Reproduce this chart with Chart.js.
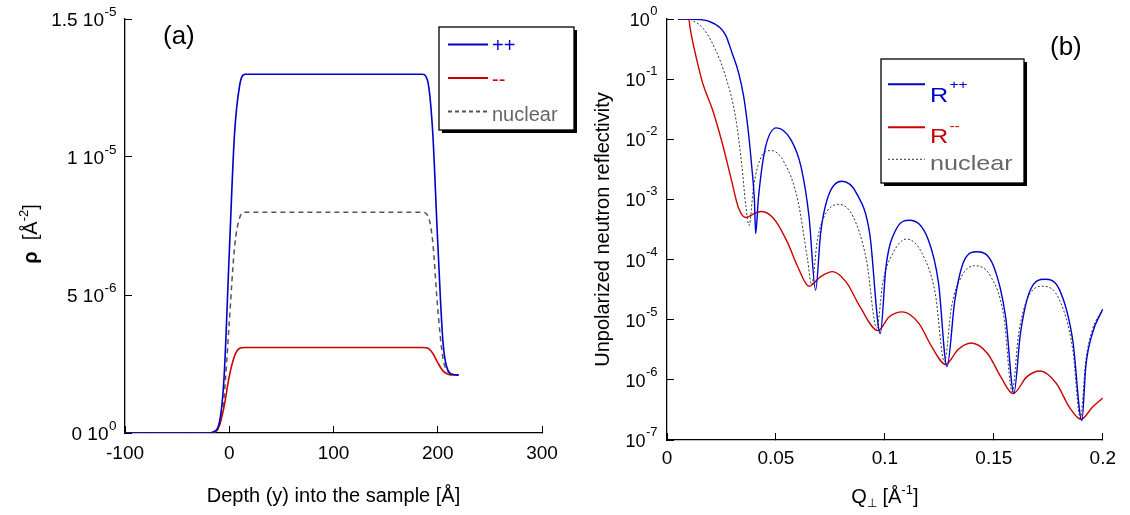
<!DOCTYPE html>
<html><head><meta charset="utf-8">
<script src="https://cdn.jsdelivr.net/npm/chart.js@4.4.1/dist/chart.umd.min.js"></script>
<style>
html,body{margin:0;padding:0;background:#fff;}
#wrap{position:relative;width:1130px;height:515px;overflow:hidden;}
#boxA{position:absolute;left:0;top:0;width:580px;height:515px;}
#boxB{position:absolute;left:580px;top:0;width:550px;height:515px;}
</style></head><body>
<div id="wrap">
<div id="boxA"><canvas id="chartA" width="580" height="515"></canvas></div>
<div id="boxB"><canvas id="chartB" width="550" height="515"></canvas></div>
</div>
<script>
// ---------- Panel (a): scattering length density profile ----------
const depth   = [-100, -25, -20, -15, -10, -5, 0, 5, 10, 15, 20, 100, 180, 185, 190, 195, 200, 205, 210, 215, 220];
const rhoPlus = [0, 0, 0, 0.05e-6, 0.3e-6, 2.0e-6, 6.5e-6, 10.8e-6, 12.6e-6, 13.0e-6, 13.0e-6, 13.0e-6, 13.0e-6, 13.0e-6, 12.8e-6, 11.0e-6, 6.9e-6, 3.3e-6, 2.25e-6, 2.12e-6, 2.1e-6];
const rhoMinus= [0, 0, 0, 0.02e-6, 0.22e-6, 0.95e-6, 2.05e-6, 2.78e-6, 3.07e-6, 3.1e-6, 3.1e-6, 3.1e-6, 3.1e-6, 3.1e-6, 3.08e-6, 2.9e-6, 2.55e-6, 2.25e-6, 2.13e-6, 2.1e-6, 2.1e-6];
const rhoNuc  = [0, 0, 0, 0.03e-6, 0.2e-6, 1.3e-6, 4.0e-6, 6.7e-6, 7.8e-6, 8.0e-6, 8.0e-6, 8.0e-6, 8.0e-6, 8.0e-6, 7.9e-6, 7.0e-6, 4.5e-6, 2.7e-6, 2.22e-6, 2.12e-6, 2.1e-6];
const aXTicks  = [-100, 0, 100, 200, 300];
const aXLabels = ['-100', '0', '100', '200', '300'];
const aYTicks  = [0, 5e-6, 1e-5, 1.5e-5];
const aYLabels = [['0 10', '0'], ['5 10', '-6'], ['1 10', '-5'], ['1.5 10', '-5']];
const aSeries  = ['++', '--', 'nuclear'];

// ---------- Panel (b): reflectivity ----------
const qPlus = [0.005, 0.010, 0.015, 0.0194, 0.0239, 0.0269, 0.0299, 0.0329, 0.0352, 0.0374, 0.0389, 0.0401, 0.0407, 0.0419, 0.0449, 0.0502, 0.0569, 0.0615, 0.0652, 0.0682, 0.0705, 0.0735, 0.0803, 0.087, 0.093, 0.0979, 0.1005, 0.105, 0.1114, 0.120, 0.1246, 0.1285, 0.1321, 0.1366, 0.1423, 0.150, 0.1554, 0.1592, 0.1622, 0.1667, 0.1734, 0.1802, 0.1862, 0.1904, 0.1922, 0.1952, 0.2];
const rPlus = [1, 1, 0.98, 0.91, 0.74, 0.54, 0.27, 0.126, 0.051, 0.0126, 3.5e-3, 1.0e-3, 2.7e-4, 1.0e-3, 6.6e-3, 1.55e-2, 9.8e-3, 3.5e-3, 5.1e-4, 3.1e-5, 2.75e-4, 1.0e-3, 2.0e-3, 1.26e-3, 2.75e-4, 5.9e-6, 7.6e-5, 3.1e-4, 4.5e-4, 2.1e-4, 4.1e-5, 1.66e-6, 2.1e-5, 1.0e-4, 1.35e-4, 7.6e-5, 1.12e-5, 6.0e-7, 5.9e-6, 3.1e-5, 4.7e-5, 3.1e-5, 4.6e-6, 2.1e-7, 1.66e-6, 5.9e-6, 1.5e-5];
const qMinus = [0.005, 0.010, 0.0106, 0.0115, 0.0134, 0.0164, 0.0209, 0.0254, 0.0292, 0.0329, 0.0362, 0.0404, 0.0434, 0.0494, 0.0555, 0.060, 0.0652, 0.0705, 0.076, 0.0825, 0.0885, 0.0968, 0.102, 0.1081, 0.1156, 0.1216, 0.1279, 0.1336, 0.1396, 0.1471, 0.1532, 0.1588, 0.1651, 0.1712, 0.1787, 0.1847, 0.190, 0.1952, 0.2];
const rMinus = [1, 1, 0.71, 0.47, 0.23, 0.085, 0.031, 8.5e-3, 2.4e-3, 7.1e-4, 5.0e-4, 5.9e-4, 6.3e-4, 4.6e-4, 1.86e-4, 7.6e-5, 3.6e-5, 5.2e-5, 6.3e-5, 4.1e-5, 1.66e-5, 6.6e-6, 1.12e-5, 1.35e-5, 8.7e-6, 3.5e-6, 1.8e-6, 3.2e-6, 4.1e-6, 2.75e-6, 1.12e-6, 5.9e-7, 1.12e-6, 1.4e-6, 8.7e-7, 3.5e-7, 2.2e-7, 3.5e-7, 5.0e-7];
const qNuc = [0.005, 0.010, 0.012, 0.0164, 0.0224, 0.0269, 0.0314, 0.0344, 0.0362, 0.0377, 0.0397, 0.0427, 0.0479, 0.054, 0.060, 0.0645, 0.0664, 0.069, 0.072, 0.0788, 0.0855, 0.0915, 0.0963, 0.099, 0.1036, 0.1099, 0.1171, 0.1231, 0.1273, 0.1306, 0.1351, 0.1411, 0.1486, 0.1546, 0.1584, 0.1614, 0.1667, 0.1727, 0.1802, 0.1862, 0.1897, 0.1922, 0.1952, 0.1997];
const rNuc = [1, 1, 0.93, 0.71, 0.30, 0.11, 0.024, 3.5e-3, 7.6e-4, 3.7e-4, 1.6e-3, 4.6e-3, 6.5e-3, 4.0e-3, 9.8e-4, 1.0e-4, 3.8e-5, 2.1e-4, 5.1e-4, 8.3e-4, 5.1e-4, 1.0e-4, 7.2e-6, 4.1e-5, 1.26e-4, 2.2e-4, 1.26e-4, 2.75e-5, 2.0e-6, 1.66e-5, 5.2e-5, 7.9e-5, 5.2e-5, 1.12e-5, 6.3e-7, 5.9e-6, 2.75e-5, 3.6e-5, 2.1e-5, 3.2e-6, 2.3e-7, 2.1e-6, 6.8e-6, 1.45e-5];
const bXTicks  = [0, 0.05, 0.1, 0.15, 0.2];
const bXLabels = ['0', '0.05', '0.1', '0.15', '0.2'];
const bYTicks  = [1e-7, 1e-6, 1e-5, 1e-4, 1e-3, 1e-2, 1e-1, 1];
const bYLabels = [['10', '-7'], ['10', '-6'], ['10', '-5'], ['10', '-4'], ['10', '-3'], ['10', '-2'], ['10', '-1'], ['10', '0']];
const bSeries  = [['R', '++'], ['R', '--'], ['nuclear', '']];

const FONT = '"Liberation Sans", Arial, Helvetica, sans-serif';
const BLUE = '#0000cc', RED = '#cc0000', GREY = '#555555';

Chart.defaults.font.family = FONT;
Chart.defaults.color = '#000';

const pts = (xs, ys) => xs.map((x, i) => ({x: x, y: ys[i]}));

// draw a run of text segments (with sub/superscripts), centred on cx, baseline cy
function richText(ctx, segs, cx, cy, rot) {
  ctx.save();
  ctx.translate(cx, cy);
  ctx.rotate(rot || 0);
  ctx.textBaseline = 'alphabetic';
  ctx.textAlign = 'left';
  let total = 0;
  const ws = segs.map(s => { ctx.font = (s.weight || 'normal') + ' ' + s.size + 'px ' + FONT; const w = ctx.measureText(s.t).width; total += w; return w; });
  let x = -total / 2;
  segs.forEach((s, i) => { ctx.font = (s.weight || 'normal') + ' ' + s.size + 'px ' + FONT; ctx.fillText(s.t, x, s.dy || 0); x += ws[i]; });
  ctx.restore();
}

// Legend box, panel tag, superscript tick labels and rich axis titles
const decor = {
  id: 'decor',
  afterDraw(chart, args, o) {
    const ctx = chart.ctx;
    ctx.save();
    // y tick labels with superscripts
    const ys = chart.scales.y;
    ctx.fillStyle = '#000';
    ctx.textBaseline = 'alphabetic';
    ctx.textAlign = 'left';
    ys.ticks.forEach((t, i) => {
      const py = ys.getPixelForValue(t.value);
      const lab = o.yLabels[i];
      ctx.font = o.tickSize + 'px ' + FONT; const wm = ctx.measureText(lab[0]).width;
      ctx.font = o.supTick + 'px ' + FONT; const wsup = ctx.measureText(lab[1]).width;
      const x0 = ys.right - o.tickGap - wsup - wm;
      ctx.font = o.tickSize + 'px ' + FONT; ctx.fillText(lab[0], x0, py + o.baseOff);
      ctx.font = o.supTick + 'px ' + FONT; ctx.fillText(lab[1], x0 + wm + 0.5, py + o.baseOff - o.supTickRaise);
    });
    // rich axis title
    if (o.richTitle) {
      const rt = o.richTitle;
      const ca = chart.chartArea;
      const cx = rt.axis === 'x' ? (ca.left + ca.right) / 2 : rt.pos;
      const cy = rt.axis === 'x' ? rt.pos : (ca.top + ca.bottom) / 2 + rt.shift;
      richText(ctx, rt.segs, cx, cy, rt.axis === 'x' ? 0 : -Math.PI / 2);
    }
    // legend box with shadow
    ctx.fillStyle = '#000';
    ctx.fillRect(o.x + o.shadow, o.y + o.shadow, o.w, o.h);
    ctx.fillStyle = '#fff';
    ctx.fillRect(o.x, o.y, o.w, o.h);
    ctx.strokeStyle = '#000';
    ctx.lineWidth = 1.3;
    ctx.strokeRect(o.x, o.y, o.w, o.h);
    chart.data.datasets.forEach((ds, i) => {
      const ly = o.lineY[i];
      ctx.strokeStyle = ds.borderColor;
      ctx.lineWidth = o.legendLineWidth[i];
      ctx.setLineDash(o.dash[i]);
      ctx.beginPath(); ctx.moveTo(o.lx1, ly); ctx.lineTo(o.lx2, ly); ctx.stroke();
      ctx.setLineDash([]);
      const lab = o.labels[i];
      ctx.fillStyle = o.textColor[i];
      ctx.font = o.fontSize + 'px ' + FONT;
      const by = o.baseY[i];
      ctx.save(); ctx.translate(o.tx, by); ctx.scale(o.sx, 1); ctx.fillText(lab[0], 0, 0);
      const w = ctx.measureText(lab[0]).width;
      if (lab[1]) {
        ctx.font = o.supSize + 'px ' + FONT;
        ctx.fillText(lab[1], w + 1, -o.supRaise);
      }
      ctx.restore();
    });
    // panel tag
    ctx.fillStyle = '#000';
    ctx.font = o.tagSize + 'px ' + FONT;
    ctx.fillText(o.tag, o.tagX, o.tagY);
    ctx.restore();
  }
};

function axisCommon(ticksArr, labelsArr, pad, showLabels) {
  return {
    afterBuildTicks: s => { s.ticks = ticksArr.map(v => ({value: v})); },
    ticks: {display: showLabels, callback: (v, i) => labelsArr[i], font: {family: FONT, size: 19}, color: '#000', padding: pad, autoSkip: false, maxRotation: 0, minRotation: 0},
    grid: {drawOnChartArea: false, drawTicks: true, tickLength: -7, color: '#000', lineWidth: 1},
    border: {display: true, color: '#000', width: 1.3}
  };
}

// ---------- Chart A ----------
new Chart(document.getElementById('chartA'), {
  type: 'line',
  data: {
    datasets: [
      {label: aSeries[0], data: pts(depth, rhoPlus), borderColor: BLUE, borderWidth: 1.6},
      {label: aSeries[1], data: pts(depth, rhoMinus), borderColor: RED, borderWidth: 1.6},
      {label: aSeries[2], data: pts(depth, rhoNuc), borderColor: GREY, borderWidth: 1.5, borderDash: [5, 4]}
    ]
  },
  options: {
    responsive: false, animation: false, devicePixelRatio: 1, events: [],
    layout: {padding: {left: 0, top: 19, right: 38, bottom: 0}},
    elements: {point: {radius: 0}, line: {cubicInterpolationMode: 'monotone', fill: false}},
    scales: {
      x: Object.assign(axisCommon(aXTicks, aXLabels, 16, true), {
        type: 'linear', min: -100, max: 300,
        afterFit: s => { s.height = 82; },
        title: {display: true, text: 'Depth (y) into the sample [\u00C5]', font: {family: FONT, size: 20}, color: '#000', padding: {top: 0, bottom: 7}}
      }),
      y: Object.assign(axisCommon(aYTicks, aYLabels, 16, false), {
        type: 'linear', min: 0, max: 1.5e-5,
        afterFit: s => { s.width = 125; }
      })
    },
    plugins: {
      legend: {display: false}, tooltip: {enabled: false},
      decor: {
        yLabels: aYLabels, tickSize: 19, supTick: 13.5, supTickRaise: 10, tickGap: 9, baseOff: 6.5,
        richTitle: {axis: 'y', pos: 37, shift: 8, segs: [
          {t: '\u03C1', size: 20, weight: 'bold'}, {t: '  [\u00C5', size: 20}, {t: '-2', size: 13, dy: -9}, {t: ']', size: 20}
        ]},
        x: 439, y: 27, w: 135, h: 103, shadow: 3,
        lx1: 448, lx2: 488, tx: 492, sx: 1,
        lineY: [44.5, 78, 111.5], baseY: [52, 86, 120.5],
        legendLineWidth: [2, 2, 2], dash: [[], [], [4, 3]],
        labels: [['++', ''], ['--', ''], ['nuclear', '']],
        textColor: [BLUE, RED, '#666666'],
        fontSize: 20, supSize: 12, supRaise: 10,
        tag: '(a)', tagX: 163, tagY: 43.5, tagSize: 26
      }
    }
  },
  plugins: [decor]
});

// ---------- Chart B ----------
new Chart(document.getElementById('chartB'), {
  type: 'line',
  data: {
    datasets: [
      {label: 'R++', data: pts(qPlus, rPlus), borderColor: BLUE, borderWidth: 1.4},
      {label: 'R--', data: pts(qMinus, rMinus), borderColor: RED, borderWidth: 1.4},
      {label: 'nuclear', data: pts(qNuc, rNuc), borderColor: '#333333', borderWidth: 1, borderDash: [2, 2]}
    ]
  },
  options: {
    responsive: false, animation: false, devicePixelRatio: 1, events: [],
    layout: {padding: {left: 0, top: 19, right: 19, bottom: 0}},
    elements: {point: {radius: 0}, line: {cubicInterpolationMode: 'monotone', fill: false}},
    scales: {
      x: Object.assign(axisCommon(bXTicks, bXLabels, 14, true), {
        type: 'linear', min: 0, max: 0.2,
        afterFit: s => { s.height = 75; }
      }),
      y: Object.assign(axisCommon(bYTicks, bYLabels, 17, false), {
        type: 'logarithmic', min: 1e-7, max: 1,
        afterFit: s => { s.width = 87; },
        title: {display: true, text: 'Unpolarized neutron reflectivity', font: {family: FONT, size: 20}, color: '#000', padding: {top: 11, bottom: 0}}
      })
    },
    plugins: {
      legend: {display: false}, tooltip: {enabled: false},
      decor: {
        yLabels: bYLabels, tickSize: 18, supTick: 13, supTickRaise: 11, tickGap: 10, baseOff: 7,
        richTitle: {axis: 'x', pos: 503, segs: [
          {t: 'Q', size: 20}, {t: '\u22A5', size: 12, dy: 4}, {t: ' [\u00C5', size: 20}, {t: '-1', size: 13, dy: -9}, {t: ']', size: 20}
        ]},
        x: 301, y: 59, w: 143, h: 124, shadow: 3,
        lx1: 308, lx2: 345, tx: 350, sx: 1.2,
        lineY: [84.3, 127.3, 159.3], baseY: [101.7, 142.7, 170],
        legendLineWidth: [2, 2, 1], dash: [[], [], [2, 2]],
        labels: bSeries,
        textColor: [BLUE, RED, '#666666'],
        fontSize: 21, supSize: 13, supRaise: 12.5,
        tag: '(b)', tagX: 470, tagY: 54.5, tagSize: 26
      }
    }
  },
  plugins: [decor]
});
</script>
</body></html>
